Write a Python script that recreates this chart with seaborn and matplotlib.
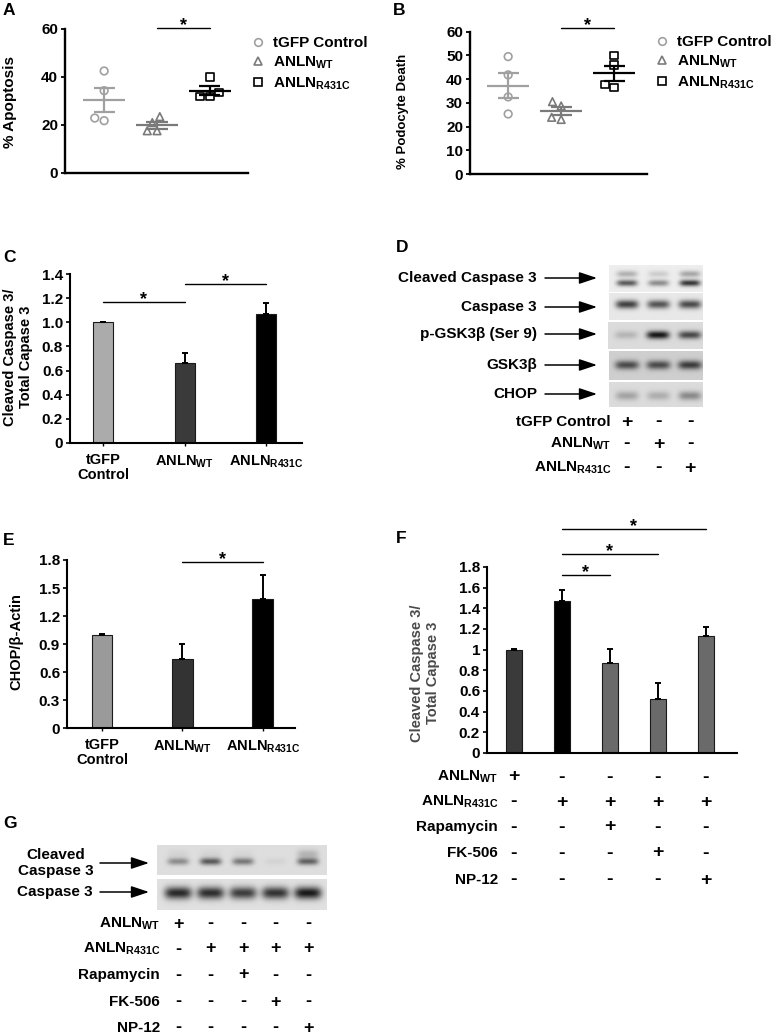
import numpy as np
import pandas as pd
import matplotlib
matplotlib.use("Agg")
import matplotlib.pyplot as plt
import seaborn as sns
from matplotlib.lines import Line2D
from matplotlib import transforms

# ------------------------------------------------------------------ data
groups = ["tGFP Control", "ANLN WT", "ANLN R431C"]
legend_labels = ["tGFP Control", "ANLN$_{WT}$", "ANLN$_{R431C}$"]

a_tgfp = [42.5, 34.3, 22.9, 21.8]
a_wt = [23.5, 21.0, 17.6, 17.6]
a_r431c = [39.9, 33.5, 31.8, 31.8]
a_yticks = [0, 20, 40, 60]

b_tgfp = [49.5, 41.8, 32.5, 25.3]
b_wt = [30.5, 28.7, 23.0, 23.9]
b_r431c = [49.9, 45.9, 36.5, 37.8]
b_yticks = [0, 10, 20, 30, 40, 50, 60]

bar_ticklabels = ["tGFP\nControl", "ANLN$_{WT}$", "ANLN$_{R431C}$"]

c_values = [1.00, 0.665, 1.065]
c_err = [0.005, 0.08, 0.095]
c_yticks = [0, 0.2, 0.4, 0.6, 0.8, 1.0, 1.2, 1.4]
c_yticklabels = ["0", "0.2", "0.4", "0.6", "0.8", "1.0", "1.2", "1.4"]

e_values = [1.00, 0.735, 1.38]
e_err = [0.005, 0.165, 0.26]
e_yticks = [0, 0.3, 0.6, 0.9, 1.2, 1.5, 1.8]
e_yticklabels = ["0", "0.3", "0.6", "0.9", "1.2", "1.5", "1.8"]

f_conditions = ["WT", "R431C", "R431C+Rapamycin", "R431C+FK-506", "R431C+NP-12"]
f_values = [1.00, 1.475, 0.875, 0.52, 1.13]
f_err = [0.005, 0.105, 0.135, 0.16, 0.085]
f_yticks = [0, 0.2, 0.4, 0.6, 0.8, 1.0, 1.2, 1.4, 1.6, 1.8]
f_yticklabels = ["0", "0.2", "0.4", "0.6", "0.8", "1", "1.2", "1.4", "1.6", "1.8"]
treat_rows = ["ANLN$_{WT}$", "ANLN$_{R431C}$", "Rapamycin", "FK-506", "NP-12"]
treat_signs = [["+", "-", "-", "-", "-"],
               ["-", "+", "+", "+", "+"],
               ["-", "-", "+", "-", "-"],
               ["-", "-", "-", "+", "-"],
               ["-", "-", "-", "-", "+"]]

d_blot_labels = ["Cleaved Caspase 3", "Caspase 3", "p-GSK3\u03b2 (Ser 9)", "GSK3\u03b2", "CHOP"]
d_cleaved_upper = [0.24, 0.13, 0.28]
d_cleaved_lower = [0.58, 0.38, 0.72]
d_caspase3 = [0.66, 0.58, 0.62]
d_pgsk3b = [0.15, 0.78, 0.58]
d_gsk3b = [0.52, 0.52, 0.58]
d_chop = [0.22, 0.18, 0.32]
d_rows = ["tGFP Control", "ANLN$_{WT}$", "ANLN$_{R431C}$"]
d_signs = [["+", "-", "-"], ["-", "+", "-"], ["-", "-", "+"]]

g_cleaved_upper = [0.04, 0.04, 0.03, 0.0, 0.16]
g_cleaved = [0.32, 0.52, 0.40, 0.04, 0.48]
g_caspase3 = [0.72, 0.70, 0.64, 0.68, 0.78]

# ------------------------------------------------------------------ style
sns.set_style("ticks")
plt.rcParams.update({
    "font.family": ["Liberation Sans", "DejaVu Sans"],
    "font.weight": "bold",
    "axes.labelweight": "bold",
    "mathtext.fontset": "custom",
    "mathtext.rm": "Liberation Sans:bold",
    "mathtext.it": "Liberation Sans:bold",
    "mathtext.bf": "Liberation Sans:bold",
    "mathtext.sf": "Liberation Sans:bold",
    "mathtext.default": "rm",
    "axes.edgecolor": "black",
    "xtick.color": "black",
    "ytick.color": "black",
    "text.color": "black",
    "axes.labelcolor": "black",
})

W, H = 776, 1035
fig = plt.figure(figsize=(W / 100, H / 100), dpi=100)


def rect(x0, y0, x1, y1):
    return [x0 / W, 1 - y1 / H, (x1 - x0) / W, (y1 - y0) / H]


def fxy(x, y):
    return (x / W, 1 - y / H)


def star_line(ax, x0, x1, y):
    ax.plot([x0, x1], [y, y], color="black", lw=1.0, clip_on=False)
    ax.annotate("*", xy=((x0 + x1) / 2, y), xytext=(0, -1.5), textcoords="offset points",
                ha="center", va="baseline", fontsize=13, annotation_clip=False)


dot_markers = ["o", "^", "s"]
dot_colors = ["#a0a0a0", "#7a7a7a", "#000000"]


def dot_panel(r, xlim, vals, yticks, sig_y, leg_anchor):
    ax = fig.add_axes(r)
    df = pd.DataFrame({"group": np.repeat(groups, [len(v) for v in vals]),
                       "value": np.concatenate(vals)})
    for g, mk, c in zip(groups, dot_markers, dot_colors):
        n0 = len(ax.collections)
        sns.swarmplot(data=df[df["group"] == g], x="group", y="value", order=groups,
                      marker=mk, color=c, size=5.5, linewidth=1.2, ax=ax)
        for coll in ax.collections[n0:]:
            coll.set_facecolor("none")
            coll.set_edgecolor(c)
            coll.set_linewidth(1.2)
    for i, (v, c) in enumerate(zip(vals, dot_colors)):
        m = np.mean(v)
        s = np.std(v, ddof=1) / np.sqrt(len(v))
        ax.hlines(m, i - 0.4, i + 0.4, color=c, lw=1.6)
        ax.hlines([m - s, m + s], i - 0.2, i + 0.2, color=c, lw=1.6)
        ax.vlines(i, m - s, m + s, color=c, lw=1.6)
    ax.set_xlim(xlim)
    ax.set_ylim(0, yticks[-1])
    ax.set_yticks(yticks)
    ax.set_xticks([])
    ax.set_xlabel("")
    ax.set_ylabel("")
    sns.despine(ax=ax)
    for s in ["left", "bottom"]:
        ax.spines[s].set_linewidth(1.7)
    ax.tick_params(axis="y", labelsize=11, length=3, width=1.3, pad=2)
    star_line(ax, 1, 2, sig_y)
    handles = [Line2D([0], [0], marker=mk, ls="none", mfc="none", mec=c, mew=1.2, ms=5.5)
               for mk, c in zip(dot_markers, dot_colors)]
    ax.legend(handles, legend_labels, loc="upper left", bbox_to_anchor=fxy(*leg_anchor),
              bbox_transform=fig.transFigure, frameon=False, fontsize=11,
              handlelength=0.8, handletextpad=0.6, labelspacing=0.3,
              borderpad=0, borderaxespad=0)
    return ax


def bar_panel(r, xlim, names, values, errs, colors, width, yticks, yticklabels,
              xticklabels=None, tick_size=11):
    ax = fig.add_axes(r)
    sns.barplot(x=names, y=values, hue=names, order=names, hue_order=names,
                palette=colors, legend=False, width=width, dodge=False,
                edgecolor="#1a1a1a", linewidth=0.8, errorbar=None, ax=ax)
    x = np.arange(len(values))
    ax.errorbar(x, values, yerr=[np.zeros(len(values)), errs], fmt="none",
                ecolor="black", elinewidth=1.4, capsize=2, capthick=1.4, zorder=3)
    ax.set_xlim(xlim)
    ax.set_ylim(yticks[0], yticks[-1])
    ax.set_yticks(yticks)
    ax.set_yticklabels(yticklabels)
    ax.set_xlabel("")
    ax.set_ylabel("")
    sns.despine(ax=ax)
    for s in ["left", "bottom"]:
        ax.spines[s].set_linewidth(1.5)
    ax.tick_params(axis="y", labelsize=tick_size, length=3, width=1.2, pad=2)
    if xticklabels is not None:
        ax.set_xticks(x)
        ax.set_xticklabels(xticklabels, fontsize=10.5, linespacing=1.05)
        ax.tick_params(axis="x", length=2.5, width=1.0, pad=5)
    else:
        ax.set_xticks([])
    return ax


# ------------------------------------------------------------------ A
axA = dot_panel(rect(65, 29, 248, 173), (-0.74, 2.72),
                [a_tgfp, a_wt, a_r431c], a_yticks, 60.4, (252, 36))
# ------------------------------------------------------------------ B
axB = dot_panel(rect(470, 31.7, 647, 174), (-0.72, 2.62),
                [b_tgfp, b_wt, b_r431c], b_yticks, 61.5, (656, 35))

# ------------------------------------------------------------------ C
axC = bar_panel(rect(70, 274, 302, 443), (-0.405, 2.44), groups, c_values, c_err,
                ["#ababab", "#3a3a3a", "#000000"], 0.245, c_yticks, c_yticklabels,
                bar_ticklabels)
star_line(axC, 0, 1, 1.17)
star_line(axC, 1, 2, 1.317)

# ------------------------------------------------------------------ E
axE = bar_panel(rect(67, 560, 295, 728), (-0.435, 2.4), groups, e_values, e_err,
                ["#9a9a9a", "#333333", "#000000"], 0.26, e_yticks, e_yticklabels,
                bar_ticklabels)
star_line(axE, 1, 2, 1.775)

# ------------------------------------------------------------------ F
axF = bar_panel(rect(487, 567, 737, 753), (-0.5625, 4.646), f_conditions, f_values, f_err,
                ["#3a3a3a", "#000000", "#6a6a6a", "#6a6a6a", "#6a6a6a"], 0.33,
                f_yticks, f_yticklabels, None, tick_size=11)
star_line(axF, 1, 2, 1.72)
star_line(axF, 1, 3, 1.93)
star_line(axF, 1, 4, 2.165)


# ------------------------------------------------------------------ blots
def blot(r, xlim, bg, bands, hw):
    ax = fig.add_axes(r)
    xs = np.linspace(xlim[0], xlim[1], 300)
    ys = np.linspace(0, 1, 80)
    X, Y = np.meshgrid(xs, ys)
    img = np.full_like(X, bg)
    for yc, ints, sig in bands:
        for i, v in enumerate(ints):
            img -= v * np.exp(-((X - i) / hw) ** 4) * np.exp(-((Y - yc) / sig) ** 2)
    ax.imshow(img, cmap="gray", vmin=0, vmax=1, extent=[xlim[0], xlim[1], 1, 0],
              aspect="auto", interpolation="bilinear")
    ax.set_xlim(xlim)
    ax.set_ylim(1, 0)
    ax.axis("off")
    return ax


d_xlim = (-0.57, 2.41)
blot(rect(609, 265, 703, 292), d_xlim, 0.93,
     [(0.33, d_cleaved_upper, 0.12), (0.67, d_cleaved_lower, 0.12)], 0.33)
blot(rect(609, 293, 703, 320), d_xlim, 0.91, [(0.42, d_caspase3, 0.16)], 0.36)
blot(rect(608, 322, 703, 349), d_xlim, 0.86, [(0.48, d_pgsk3b, 0.15)], 0.36)
blot(rect(609, 351, 703, 380), d_xlim, 0.81, [(0.5, d_gsk3b, 0.15)], 0.38)
axD5 = blot(rect(609, 382, 703, 407), d_xlim, 0.86, [(0.55, d_chop, 0.18)], 0.36)

g_xlim = (-0.646, 4.58)
blot(rect(157, 845, 327, 875), g_xlim, 0.87,
     [(0.3, g_cleaved_upper, 0.15), (0.55, g_cleaved, 0.12)], 0.33)
axG2 = blot(rect(157, 879, 327, 910), g_xlim, 0.88, [(0.45, g_caspase3, 0.2)], 0.42)

# ------------------------------------------------------------------ overlay text/arrows
ov = fig.add_axes([0, 0, 1, 1])
ov.set_xlim(0, W)
ov.set_ylim(H, 0)
ov.axis("off")

for letter, (x, y) in zip("ABCDEFG", [(3, 15), (393, 15), (3, 262), (396, 252),
                                     (3, 545), (396, 543), (3, 828)]):
    ov.text(x, y, letter, fontsize=12.5, ha="left", va="baseline")

# y-axis titles
ov.text(10.5, 102, "% Apoptosis", rotation=90, ha="center", va="center", fontsize=11)
ov.text(403, 111, "% Podocyte Death", rotation=90, ha="center", va="center", fontsize=9.5)
ov.text(18, 357, "Cleaved Caspase 3/\nTotal Capase 3", rotation=90, ha="center",
        va="center", fontsize=10.5, multialignment="center", linespacing=1.15)
ov.text(16, 642, "CHOP/\u03b2-Actin", rotation=90, ha="center", va="center", fontsize=10.5)
ov.text(425, 673, "Cleaved Caspase 3/\nTotal Capase 3", rotation=90, ha="center",
        va="center", fontsize=10.5, multialignment="center", linespacing=1.15,
        color="#4a4a4a")

arrow_kw = dict(arrowstyle="-|>,head_length=0.9,head_width=0.3", color="black", lw=1.1,
                mutation_scale=12, shrinkA=0, shrinkB=0)

# D labels + arrows
for lab, y in zip(d_blot_labels, [278, 307, 334, 365, 394]):
    ov.text(537, y, lab, ha="right", va="center", fontsize=11)
    ov.annotate("", xy=(597, y), xytext=(545, y), arrowprops=arrow_kw)

tD = transforms.blended_transform_factory(axD5.transData, ov.transData)
for lab, signs, y in zip(d_rows, d_signs, [422, 444, 468]):
    ov.text(611, y, lab, ha="right", va="center", fontsize=11)
    for i, s in enumerate(signs):
        ov.text(i, y, s, transform=tD, ha="center", va="center", fontsize=14)

# F treatment rows
tF = transforms.blended_transform_factory(axF.transData, ov.transData)
for lab, signs, y in zip(treat_rows, treat_signs, [777, 802, 827, 853, 880]):
    ov.text(498, y, lab, ha="right", va="center", fontsize=11)
    for i, s in enumerate(signs):
        ov.text(i, y, s, transform=tF, ha="center", va="center", fontsize=14)

# G labels + arrows + rows
ov.text(56, 863, "Cleaved\nCaspase 3", ha="center", va="center", fontsize=11,
        multialignment="center", linespacing=1.1)
ov.annotate("", xy=(149, 863), xytext=(100, 863), arrowprops=arrow_kw)
ov.text(93, 892, "Caspase 3", ha="right", va="center", fontsize=11)
ov.annotate("", xy=(149, 892), xytext=(100, 892), arrowprops=arrow_kw)

tG = transforms.blended_transform_factory(axG2.transData, ov.transData)
for lab, signs, y in zip(treat_rows, treat_signs, [924, 949, 975, 1002, 1028]):
    ov.text(160, y, lab, ha="right", va="center", fontsize=11)
    for i, s in enumerate(signs):
        ov.text(i, y, s, transform=tG, ha="center", va="center", fontsize=13)

fig.savefig("out.png", dpi=100, facecolor="white")
